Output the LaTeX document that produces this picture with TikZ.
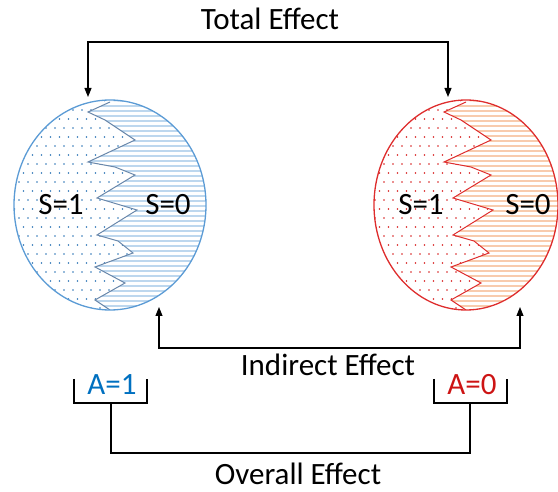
\documentclass[tikz,border=0pt]{standalone}
\usepackage{fontspec}
\setmainfont{Carlito}
\usetikzlibrary{arrows.meta,positioning}
\definecolor{bline}{RGB}{91,155,213}
\definecolor{bdot}{RGB}{46,117,182}
\definecolor{bhatch}{RGB}{189,215,238}
\definecolor{bwig}{RGB}{105,135,170}
\definecolor{btext}{RGB}{0,112,192}
\definecolor{rline}{RGB}{222,45,45}
\definecolor{rdot}{RGB}{215,30,30}
\definecolor{rhatch}{RGB}{248,203,173}
\definecolor{rtext}{RGB}{205,20,20}

\begin{document}
\begin{tikzpicture}[x=1pt, y=-1pt, >={Triangle[length=9pt,width=7pt]},
  lbl/.style={font=\fontsize{31}{36}\selectfont, inner sep=0pt},
  conn/.style={line width=1.1pt, black}]
\useasboundingbox (0,0) rectangle (558,492);
% zigzag border between S=1 and S=0, relative to the ball centre
\def\wig{(0,-103) -- (-22,-93) -- (-5,-85) -- (25,-65) -- (-22,-43) -- (5,-38) -- (25,-30) -- (-13,-7) -- (27,5) -- (-13,30) -- (8,36) -- (23,48) -- (-15,62) -- (15,78) -- (-15,95) -- (0,105)}
\foreach \cx/\rx/\dc/\hc/\oc/\wc in {110/96/bdot/bhatch/bline/bwig, 466/92/rdot/rhatch/rline/rline}{
  \begin{scope}[shift={(\cx,205)}]
    \begin{scope}
      \clip (0,0) ellipse [x radius=\rx, y radius=105];
      \begin{scope}
        \clip \wig -- (-110,110) -- (-110,-110) -- cycle;
        \foreach \y [count=\i] in {-104,-95,...,106}{
          \pgfmathsetmacro\off{mod(\i,2)*4.5}
          \foreach \x in {-100,-91,...,40} \fill[\dc] (\x+\off,\y) circle (0.8);
        }
      \end{scope}
      \begin{scope}
        \clip \wig -- (110,110) -- (110,-110) -- cycle;
        \foreach \y in {-104,-99,...,106} \draw[\hc, line width=1.1pt] (-40,\y) -- (110,\y);
      \end{scope}
      \draw[\wc, line width=1pt] \wig;
    \end{scope}
    \draw[\oc, line width=1.3pt] (0,0) ellipse [x radius=\rx, y radius=105];
  \end{scope}
}
\node[lbl] (ls1) at (61,205) {S=1};
\node[lbl] (ls0) at (168,205) {S=0};
\node[lbl] (rs1) at (421,205) {S=1};
\node[lbl] (rs0) at (528,205) {S=0};
\node[lbl] (te) at (270,19) {Total Effect};
\node[lbl] (ie) at (328,365) {Indirect Effect};
\node[lbl] (oe) at (298,474) {Overall Effect};
\node[lbl, text=btext] (a1) at (112,385) {A=1};
\node[lbl, text=rtext] (a0) at (472,385) {A=0};
\coordinate (lt) at (88,97);
\coordinate (rt) at (448,97);
\coordinate (lb) at (159,307);
\coordinate (rb) at (520,307);
\coordinate (a1b) at (111,403);
\coordinate (a0b) at (470,403);
\draw[conn, <->] (lt) -- ++(0,-55) -| (rt);
\draw[conn, <->] (lb) -- ++(0,41) -| (rb);
\draw[conn] (74,379) |- (a1b) -| (147,379);
\draw[conn] (434,379) |- (a0b) -| (507,379);
\draw[conn] (a1b) -- ++(0,50) -| (a0b);
\end{tikzpicture}
\end{document}
